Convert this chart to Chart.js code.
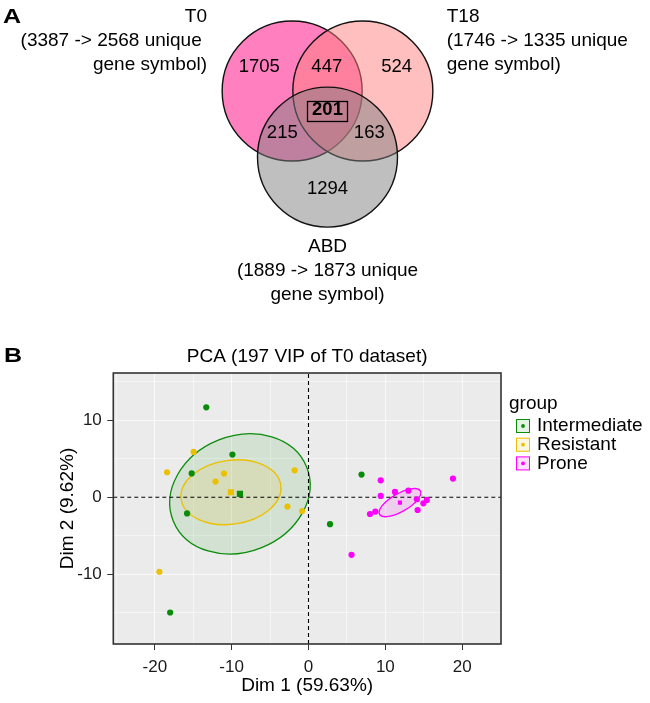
<!DOCTYPE html>
<html>
<head>
<meta charset="utf-8">
<script src="https://cdn.jsdelivr.net/npm/chart.js@4.4.1/dist/chart.umd.min.js"></script>
<style>
  html, body { margin: 0; padding: 0; background: #fff; }
  #venn { position: absolute; left: 0; top: 0; }
  #pca { position: absolute; left: 0; top: 330px; }
</style>
</head>
<body>
<canvas id="venn" width="650" height="330"></canvas>
<canvas id="pca" width="650" height="373"></canvas>
<script>
const FONT = "'Liberation Sans', Arial, Helvetica, sans-serif";

// ---- panel A data (Venn) ----
const setNames = ['T0', 'T18', 'ABD'];
const setRawCounts = [3387, 1746, 1889];
const setUniqueCounts = [2568, 1335, 1873];
const regionNames = ['T0 only', 'T0 & T18', 'T18 only', 'T0 & ABD', 'T0 & T18 & ABD', 'T18 & ABD', 'ABD only'];
const regionCounts = [1705, 447, 524, 215, 201, 163, 1294];

// ---- panel B data (PCA) ----
const groups = ['Intermediate', 'Resistant', 'Prone'];
const intermediateDim1 = [-13.3, -9.9, -15.2, -15.8, 6.9, 2.8, -18.0];
const intermediateDim2 = [11.7, 5.55, 3.1, -2.1, 2.95, -3.5, -15.0];
const resistantDim1 = [-14.95, -18.4, -11.0, -12.1, -1.8, -2.74, -0.83, -19.4];
const resistantDim2 = [5.9, 3.25, 3.08, 2.04, 3.5, -1.22, -1.79, -9.7];
const proneDim1 = [9.4, 9.4, 11.25, 13.0, 14.1, 15.4, 14.95, 14.2, 8.7, 8.0, 5.6, 18.8];
const proneDim2 = [2.2, 0.17, 0.69, 0.86, -0.26, -0.35, -0.79, -1.66, -1.87, -2.18, -7.5, 2.43];
const groupMeanDim1 = [-8.92, -10.09, 11.9];
const groupMeanDim2 = [0.43, 0.65, -0.7];
// concentration ellipses: semi axes (Dim units) and tilt (degrees)
const ellipseMajor = [9.36, 6.55, 3.06];
const ellipseMinor = [7.54, 4.16, 1.17];
const ellipseTilt = [22, 8, 30];

const xTickLabels = [-20, -10, 0, 10, 20];
const yTickLabels = [-10, 0, 10];
const xGridLines = [-25, -20, -15, -10, -5, 0, 5, 10, 15, 20, 25];
const yGridLines = [-15, -10, -5, 0, 5, 10, 15];
const xRange = [-25.4, 25.05];
const yRange = [-19.1, 16.17];

// ---- styles / layout ----
const setColors = ['rgba(255,0,128,0.5)', 'rgba(255,127,127,0.5)', 'rgba(128,128,128,0.5)'];
const groupColors = ['#0a8c0a', '#ebc000', '#ff00ff'];
const groupFills = ['rgba(0,140,0,0.1)', 'rgba(235,192,0,0.12)', 'rgba(255,0,255,0.12)'];
// venn layout, in circle-radius units
const circleCenters = [[-0.505, 0.314], [0.505, 0.314], [0, -0.63]];
const regionAnchors = [[-0.974, 0.661], [-0.01, 0.661], [0.989, 0.661], [-0.646, -0.29], [0, 0.043], [0.597, -0.29], [0, -1.086]];
const setLabelAnchors = [[-1.721, 1.376, 'right'], [1.703, 1.376, 'left'], [0, -1.91, 'center']];

function panelLetter(ctx, letter, x, y) {
  ctx.save();
  ctx.font = 'bold 20px ' + FONT;
  ctx.fillStyle = '#000';
  ctx.textBaseline = 'middle';
  ctx.translate(x, y);
  ctx.scale(1.25, 1);
  ctx.fillText(letter, 0, 0);
  ctx.restore();
}

const vennPlugin = {
  id: 'vennPlugin',
  beforeDatasetsDraw(chart) {
    const {ctx, scales: {x, y}} = chart;
    const r = x.getPixelForValue(1) - x.getPixelForValue(0);
    ctx.save();
    setNames.forEach((name, i) => {
      ctx.beginPath();
      ctx.arc(x.getPixelForValue(circleCenters[i][0]), y.getPixelForValue(circleCenters[i][1]), r, 0, Math.PI * 2);
      ctx.fillStyle = setColors[i];
      ctx.fill();
      ctx.lineWidth = 1.4;
      ctx.strokeStyle = '#111';
      ctx.stroke();
    });
    ctx.restore();
  },
  afterDatasetsDraw(chart) {
    const {ctx, scales: {x, y}} = chart;
    ctx.save();
    ctx.fillStyle = '#000';
    ctx.textBaseline = 'middle';
    ctx.textAlign = 'center';
    regionCounts.forEach((n, i) => {
      const cx = x.getPixelForValue(regionAnchors[i][0]);
      const cy = y.getPixelForValue(regionAnchors[i][1]);
      const core = regionNames[i] === 'T0 & T18 & ABD';
      ctx.font = (core ? 'bold ' : '') + '18.5px ' + FONT;
      ctx.fillText(String(n), cx, cy);
      if (core) {
        ctx.lineWidth = 1.3;
        ctx.strokeStyle = '#000';
        ctx.strokeRect(cx - 20, cy - 8.5, 40, 20);
      }
    });
    ctx.font = '19px ' + FONT;
    setNames.forEach((name, i) => {
      const [ax, ay, align] = setLabelAnchors[i];
      const lx = x.getPixelForValue(ax);
      const ly = y.getPixelForValue(ay);
      const lines = [name, '(' + setRawCounts[i] + ' -> ' + setUniqueCounts[i] + ' unique' + (align === 'right' ? ' ' : ''), 'gene symbol)'];
      ctx.textAlign = align;
      lines.forEach((t, k) => ctx.fillText(t, lx, ly + k * 24));
    });
    ctx.restore();
    panelLetter(ctx, 'A', 3, 17);
  }
};

new Chart(document.getElementById('venn'), {
  type: 'scatter',
  data: {
    datasets: [{
      label: 'sets',
      data: circleCenters.map(c => ({x: c[0], y: c[1]})),
      pointRadius: 0
    }]
  },
  options: {
    responsive: false,
    animation: false,
    events: [],
    layout: {padding: 0},
    plugins: {legend: {display: false}, tooltip: {enabled: false}},
    scales: {
      x: {type: 'linear', display: false, min: -327.5 / 70, max: 322.5 / 70},
      y: {type: 'linear', display: false, min: -217 / 70, max: 113 / 70}
    }
  },
  plugins: [vennPlugin]
});

// ---- PCA ----
const pts = (a, b) => a.map((v, i) => ({x: v, y: b[i]}));
const groupData = [pts(intermediateDim1, intermediateDim2), pts(resistantDim1, resistantDim2), pts(proneDim1, proneDim2)];

const panelPlugin = {
  id: 'panel',
  beforeDraw(chart) {
    const {ctx, chartArea: a} = chart;
    ctx.save();
    ctx.fillStyle = '#ebebeb';
    ctx.fillRect(a.left, a.top, a.width, a.height);
    ctx.restore();
  },
  beforeDatasetsDraw(chart) {
    const {ctx, chartArea: a, scales: {x, y}} = chart;
    const unit = x.getPixelForValue(1) - x.getPixelForValue(0);
    ctx.save();
    ctx.beginPath();
    ctx.rect(a.left, a.top, a.width, a.height);
    ctx.clip();
    groups.forEach((g, i) => {
      ctx.beginPath();
      ctx.ellipse(x.getPixelForValue(groupMeanDim1[i]), y.getPixelForValue(groupMeanDim2[i]),
        ellipseMajor[i] * unit, ellipseMinor[i] * unit, -ellipseTilt[i] * Math.PI / 180, 0, Math.PI * 2);
      ctx.fillStyle = groupFills[i];
      ctx.fill();
      ctx.lineWidth = 1.3;
      ctx.strokeStyle = groupColors[i];
      ctx.stroke();
    });
    ctx.restore();
  },
  afterDraw(chart) {
    const {ctx, chartArea: a} = chart;
    ctx.save();
    ctx.strokeStyle = '#333';
    ctx.lineWidth = 1.6;
    ctx.strokeRect(a.left, a.top, a.width, a.height);

    ctx.fillStyle = '#000';
    ctx.textBaseline = 'middle';
    ctx.textAlign = 'center';
    ctx.font = '19px ' + FONT;
    ctx.fillText('PCA (197 VIP of T0 dataset)', (a.left + a.right) / 2, 26.5);

    // legend
    const lx = a.right + 8;
    ctx.textAlign = 'left';
    ctx.fillText('group', lx, 74);
    groups.forEach((g, i) => {
      const cy = 96 + i * 18.7;
      const bx = lx + 7;
      ctx.fillStyle = '#fff';
      ctx.fillRect(bx, cy - 7, 14, 14);
      ctx.fillStyle = groupFills[i];
      ctx.fillRect(bx, cy - 7, 14, 14);
      ctx.strokeStyle = groupColors[i];
      ctx.lineWidth = 1;
      ctx.strokeRect(bx + 0.5, cy - 6.5, 13, 13);
      ctx.fillStyle = groupColors[i];
      ctx.beginPath();
      ctx.arc(bx + 7, cy, 1.9, 0, Math.PI * 2);
      ctx.fill();
      ctx.fillStyle = '#000';
      ctx.fillText(g, bx + 21, cy);
    });
    ctx.restore();
    panelLetter(ctx, 'B', 4, 26);
  }
};

const pointSets = groups.map((g, i) => ({
  label: g,
  data: groupData[i],
  backgroundColor: groupColors[i],
  borderWidth: 0,
  pointRadius: 3.1,
  order: 0
}));
const meanSets = groups.map((g, i) => ({
  label: g + ' mean',
  data: [{x: groupMeanDim1[i], y: groupMeanDim2[i]}],
  backgroundColor: groupColors[i],
  borderWidth: 0,
  pointStyle: 'rect',
  pointRadius: i === 2 ? 2.9 : 4.4,
  order: 0
}));
const dashed = (data) => ({
  type: 'line',
  data: data,
  borderColor: '#000',
  borderWidth: 1.1,
  borderDash: [4, 3],
  pointRadius: 0,
  fill: false,
  order: 1
});

const gridColor = (c) => (c.tick && xTickLabels.concat(yTickLabels).includes(c.tick.value)) ? 'rgba(255,255,255,0.7)' : 'rgba(255,255,255,0.5)';

new Chart(document.getElementById('pca'), {
  type: 'scatter',
  data: {
    datasets: pointSets.concat(meanSets, [
      dashed([{x: xRange[0], y: 0}, {x: xRange[1], y: 0}]),
      dashed([{x: 0, y: yRange[0]}, {x: 0, y: yRange[1]}])
    ])
  },
  options: {
    responsive: false,
    animation: false,
    events: [],
    layout: {padding: {top: 43, right: 149, bottom: 0, left: 0}},
    plugins: {legend: {display: false}, tooltip: {enabled: false}, title: {display: false}},
    scales: {
      x: {
        type: 'linear', min: xRange[0], max: xRange[1],
        afterBuildTicks: (s) => { s.ticks = xGridLines.map(v => ({value: v})); },
        afterFit: (s) => { s.height = 59; },
        border: {display: false},
        grid: {
          color: gridColor, lineWidth: 1, tickLength: 6,
          tickColor: (c) => (c.tick && xTickLabels.includes(c.tick.value)) ? '#333' : 'rgba(0,0,0,0)'
        },
        ticks: {
          autoSkip: false, maxRotation: 0, padding: 7, color: '#1a1a1a',
          font: {size: 17, family: FONT},
          callback: (v) => xTickLabels.includes(v) ? String(v) : ''
        },
        title: {display: true, text: 'Dim 1 (59.63%)', color: '#000', font: {size: 19, family: FONT}, padding: {top: 0, bottom: 5.5}}
      },
      y: {
        type: 'linear', min: yRange[0], max: yRange[1],
        afterBuildTicks: (s) => { s.ticks = yGridLines.map(v => ({value: v})); },
        afterFit: (s) => { s.width = 113.3; },
        border: {display: false},
        grid: {
          color: gridColor, lineWidth: 1, tickLength: 6,
          tickColor: (c) => (c.tick && yTickLabels.includes(c.tick.value)) ? '#333' : 'rgba(0,0,0,0)'
        },
        ticks: {
          autoSkip: false, padding: 5.5, color: '#1a1a1a',
          font: {size: 17, family: FONT},
          callback: (v) => yTickLabels.includes(v) ? String(v) : ''
        },
        title: {display: true, text: 'Dim 2 (9.62%)', color: '#000', font: {size: 19, family: FONT}, padding: {top: 56.5, bottom: 0}}
      }
    }
  },
  plugins: [panelPlugin]
});
</script>
</body>
</html>
